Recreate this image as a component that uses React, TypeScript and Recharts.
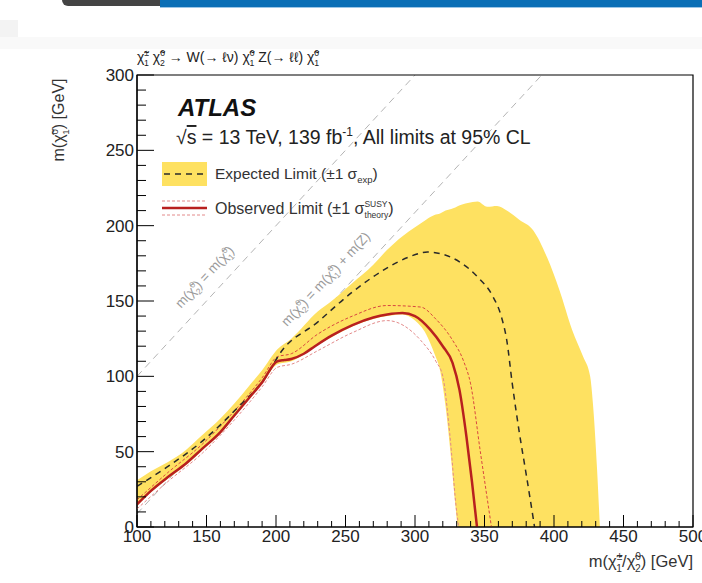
import React from "react";
import { ComposedChart, Area, Line, XAxis, YAxis, ReferenceArea } from "recharts";

// expected limit +-1 sigma band (lower / upper edge at each mass)
const bandMass = [100, 110, 122, 135, 147, 160, 170, 180, 190, 201, 211, 230, 240, 255, 270, 280, 291, 300, 308, 314, 318, 322, 326, 329, 331, 338, 345, 352, 359, 366, 375, 385, 395, 404, 413, 421, 426, 428, 431, 433];
const bandLow = [14, 23, 32, 41, 51, 62, 73, 84, 95, 108, 110, 121, 126, 133, 138, 140, 141, 137, 128, 115, 104, 80, 45, 15, 0, 0, 0, 0, 0, 0, 0, 0, 0, 0, 0, 0, 0, 0, 0, 0];
const bandHigh = [31, 37, 43, 51, 61, 72, 82, 93, 104, 118, 125, 143, 150, 162, 174, 184, 193, 199, 204, 207, 208, 210, 211, 212, 213, 215, 216, 212.5, 213, 210, 204, 197, 179, 157, 131, 113, 100, 82, 38, 0];

// expected limit
const expMass = [100, 122, 147, 170, 195, 202, 230, 255, 280, 295, 309, 320, 332, 345, 356, 362, 366, 370, 375, 380, 385, 386];
const expLimit = [27, 40, 57, 77, 103, 114, 136, 156, 172, 179, 182.5, 181, 176, 166, 153, 140, 124, 95, 63, 35, 6, 0];

// observed limit and theory +-1 sigma
const obsMass = [100, 110, 122, 135, 147, 160, 170, 180, 190, 201, 206, 211, 220, 228, 240, 255, 270, 280, 291, 300, 311, 320, 327, 332, 337, 341, 344.6];
const obsLimit = [15, 24, 33, 42, 52, 63, 74, 85, 96, 110, 110.8, 111.5, 115, 120, 127, 134, 139, 141, 142, 140, 131, 120, 109, 91, 60, 30, 0];
const obsUpMass = [100, 122, 147, 170, 190, 201, 211, 230, 255, 280, 304, 315, 327, 335, 340, 347, 355];
const obsUpLimit = [18, 36, 55, 77, 99, 113, 115, 128, 140, 147, 146, 138, 124, 110, 95, 50, 0];
const obsDnMass = [100, 122, 147, 170, 190, 201, 211, 230, 255, 280, 304, 315, 320, 325, 330, 331.5];
const obsDnLimit = [12, 30, 49, 71, 93, 106, 108, 117, 129, 137, 124, 110, 100, 62, 10, 0];

// kinematic lines
const diagMass1 = [100, 300];
const diagLimit1 = [100, 300];
const diagMass2 = [100, 391.2];
const diagLimit2 = [8.8, 300];

const xMajor = [100, 150, 200, 250, 300, 350, 400, 450, 500];
const yMajor = [0, 50, 100, 150, 200, 250, 300];
const xTicks = Array.from({ length: 41 }, (_, i) => 100 + i * 10);
const yTicks = Array.from({ length: 31 }, (_, i) => i * 10);

const zip = (xs: number[], ys: number[]) => xs.map((x, i) => ({ x, y: ys[i] }));
const bandData = bandMass.map((x, i) => ({ x, range: [bandLow[i], bandHigh[i]] }));

const FONT = "'Liberation Sans', Arial, Helvetica, sans-serif";

const XTick = (props: any) => {
  const { x, y, payload } = props;
  const major = xMajor.includes(payload.value);
  return (
    <g>
      <line x1={x} x2={x} y1={y} y2={y - (major ? 12 : 6)} stroke="#000" strokeWidth={1} />
      {major && (
        <text x={x} y={y + 15} textAnchor="middle" fontSize={17} fontFamily={FONT} fill="#222">
          {payload.value}
        </text>
      )}
    </g>
  );
};

const YTick = (props: any) => {
  const { x, y, payload } = props;
  const major = yMajor.includes(payload.value);
  return (
    <g>
      <line x1={x} x2={x + (major ? 17 : 9)} y1={y} y2={y} stroke="#000" strokeWidth={1} />
      {major && (
        <text x={x - 3} y={y + 6} textAnchor="end" fontSize={17} fontFamily={FONT} fill="#222">
          {payload.value}
        </text>
      )}
    </g>
  );
};

// chi-tilde with stacked super / subscript, followed by the rest of the text on the baseline
const Chi = ({ sup, sub, fs, rest }: { sup: string; sub: string; fs: number; rest: string }) => (
  <>
    <tspan>χ̃</tspan>
    <tspan fontSize={fs * 0.62} dy={-fs * 0.4}>{sup}</tspan>
    <tspan fontSize={fs * 0.62} dx={-fs * 0.36} dy={fs * 0.7}>{sub}</tspan>
    <tspan dy={-fs * 0.3}>{rest}</tspan>
  </>
);

export default function App() {
  const hf = 14;
  const lf = 13.5;
  return (
    <div style={{ position: "absolute", left: 0, top: 0, width: 702, height: 583, background: "#fff", overflow: "hidden" }}>
      <div style={{ position: "absolute", left: 62, top: 0, width: 100, height: 6, background: "#444", borderBottomLeftRadius: 6 }} />
      <div style={{ position: "absolute", left: 160, top: 0, width: 542, height: 7, background: "#0a6fb6" }} />
      <div style={{ position: "absolute", left: 160, top: 7, width: 542, height: 1, background: "#9cc6e6" }} />
      <div style={{ position: "absolute", left: 0, top: 20, width: 18, height: 17, background: "#f3f3f3" }} />
      <div style={{ position: "absolute", left: 0, top: 37, width: 702, height: 12, background: "#f9f9f9" }} />

      <div style={{ position: "absolute", left: 0, top: 0 }}>
        <ComposedChart width={702} height={583} margin={{ top: 75, right: 9, bottom: 26, left: 97 }}>
          <XAxis
            type="number"
            dataKey="x"
            domain={[100, 500]}
            allowDataOverflow
            ticks={xTicks}
            interval={0}
            tickSize={0}
            tickMargin={0}
            tickLine={false}
            tick={<XTick />}
            axisLine={{ stroke: "#000", strokeWidth: 1.2 }}
            height={30}
          />
          <YAxis
            type="number"
            domain={[0, 300]}
            allowDataOverflow
            ticks={yTicks}
            interval={0}
            tickSize={0}
            tickMargin={0}
            tickLine={false}
            tick={<YTick />}
            axisLine={{ stroke: "#000", strokeWidth: 1.2 }}
            width={40}
          />
          <Area data={zip(diagMass1, diagLimit1)} dataKey="y" type="linear" stroke="#b4b4b4" strokeWidth={1} strokeDasharray="7 5" fill="none" fillOpacity={0} baseValue={0} dot={false} activeDot={false} isAnimationActive={false} />
          <Area data={zip(diagMass2, diagLimit2)} dataKey="y" type="linear" stroke="#b4b4b4" strokeWidth={1} strokeDasharray="7 5" fill="none" fillOpacity={0} baseValue={0} dot={false} activeDot={false} isAnimationActive={false} />
          <Area data={bandData} dataKey="range" type="monotone" stroke="none" fill="#fee161" fillOpacity={1} dot={false} activeDot={false} isAnimationActive={false} />
          <Line data={zip(obsDnMass, obsDnLimit)} dataKey="y" type="monotone" stroke="#e38a8a" strokeWidth={1} strokeDasharray="3 2" dot={false} activeDot={false} isAnimationActive={false} />
          <Line data={zip(obsUpMass, obsUpLimit)} dataKey="y" type="monotone" stroke="#d9473f" strokeWidth={1} strokeDasharray="3 2" dot={false} activeDot={false} isAnimationActive={false} />
          <Line data={zip(expMass, expLimit)} dataKey="y" type="monotone" stroke="#2a2a2a" strokeWidth={1.5} strokeDasharray="6 5" dot={false} activeDot={false} isAnimationActive={false} />
          <Line data={zip(obsMass, obsLimit)} dataKey="y" type="monotone" stroke="#b8201f" strokeWidth={2.5} dot={false} activeDot={false} isAnimationActive={false} />
          <ReferenceArea x1={100} x2={500} y1={0} y2={300} fill="none" fillOpacity={0} stroke="#000" strokeWidth={1.2} ifOverflow="visible" />
        </ComposedChart>
      </div>

      <svg width={702} height={583} style={{ position: "absolute", left: 0, top: 0, pointerEvents: "none" }} fontFamily={FONT}>
        {/* process header */}
        <text x={137} y={62} fontSize={hf} fill="#222">
          <Chi sup="±" sub="1" fs={hf} rest=" " />
          <Chi sup="0" sub="2" fs={hf} rest=" → W(→ ℓν) " />
          <Chi sup="0" sub="1" fs={hf} rest=" Z(→ ℓℓ) " />
          <Chi sup="0" sub="1" fs={hf} rest="" />
        </text>

        <text x={178} y={116} fontSize={24} fontWeight="bold" fontStyle="italic" fill="#111">ATLAS</text>
        <text x={176} y={144} fontSize={19.5} fill="#222">
          √<tspan textDecoration="overline">s</tspan> = 13 TeV, 139 fb
          <tspan fontSize={12} dy={-8}>-1</tspan>
          <tspan dy={8}>, All limits at 95% CL</tspan>
        </text>

        {/* legend */}
        <rect x={162} y={162} width={45} height={24} fill="#fee161" />
        <line x1={164} x2={206} y1={174} y2={174} stroke="#2a2a2a" strokeWidth={1.5} strokeDasharray="6 5" />
        <text x={215} y={179} fontSize={15.5} fill="#333">
          Expected Limit (±1 σ<tspan fontSize={9.5} dy={4}>exp</tspan><tspan dy={-4}>)</tspan>
        </text>
        <line x1={162} x2={207} y1={201} y2={201} stroke="#e38a8a" strokeWidth={1} strokeDasharray="3 2" />
        <line x1={162} x2={207} y1={208} y2={208} stroke="#b8201f" strokeWidth={2.5} />
        <line x1={162} x2={207} y1={215} y2={215} stroke="#e38a8a" strokeWidth={1} strokeDasharray="3 2" />
        <text x={215} y={214} fontSize={16} fill="#333">
          Observed Limit (±1 σ<tspan fontSize={8.5} dy={-7}>SUSY</tspan>
          <tspan fontSize={8.5} dx={-23} dy={11}>theory</tspan>
          <tspan dy={-4}>)</tspan>
        </text>

        {/* kinematic line labels */}
        <text x={0} y={0} fontSize={lf} fill="#9a9a9a" textAnchor="middle" transform="translate(208 280) rotate(-47)">
          m(<Chi sup="0" sub="2" fs={lf} rest=") = m(" /><Chi sup="0" sub="1" fs={lf} rest=")" />
        </text>
        <text x={0} y={0} fontSize={lf} fill="#9a9a9a" textAnchor="middle" transform="translate(329 282) rotate(-47)">
          m(<Chi sup="0" sub="2" fs={lf} rest=") = m(" /><Chi sup="0" sub="1" fs={lf} rest=") + m(Z)" />
        </text>

        {/* axis titles */}
        <text x={0} y={0} fontSize={16} fill="#333" textAnchor="middle" transform="translate(64 120) rotate(-90)">
          m(<Chi sup="0" sub="1" fs={16} rest=") [GeV]" />
        </text>
        <text x={693} y={567} fontSize={16.5} fill="#333" textAnchor="end">
          m(<Chi sup="±" sub="1" fs={16.5} rest="/" /><Chi sup="0" sub="2" fs={16.5} rest=") [GeV]" />
        </text>
      </svg>
    </div>
  );
}
